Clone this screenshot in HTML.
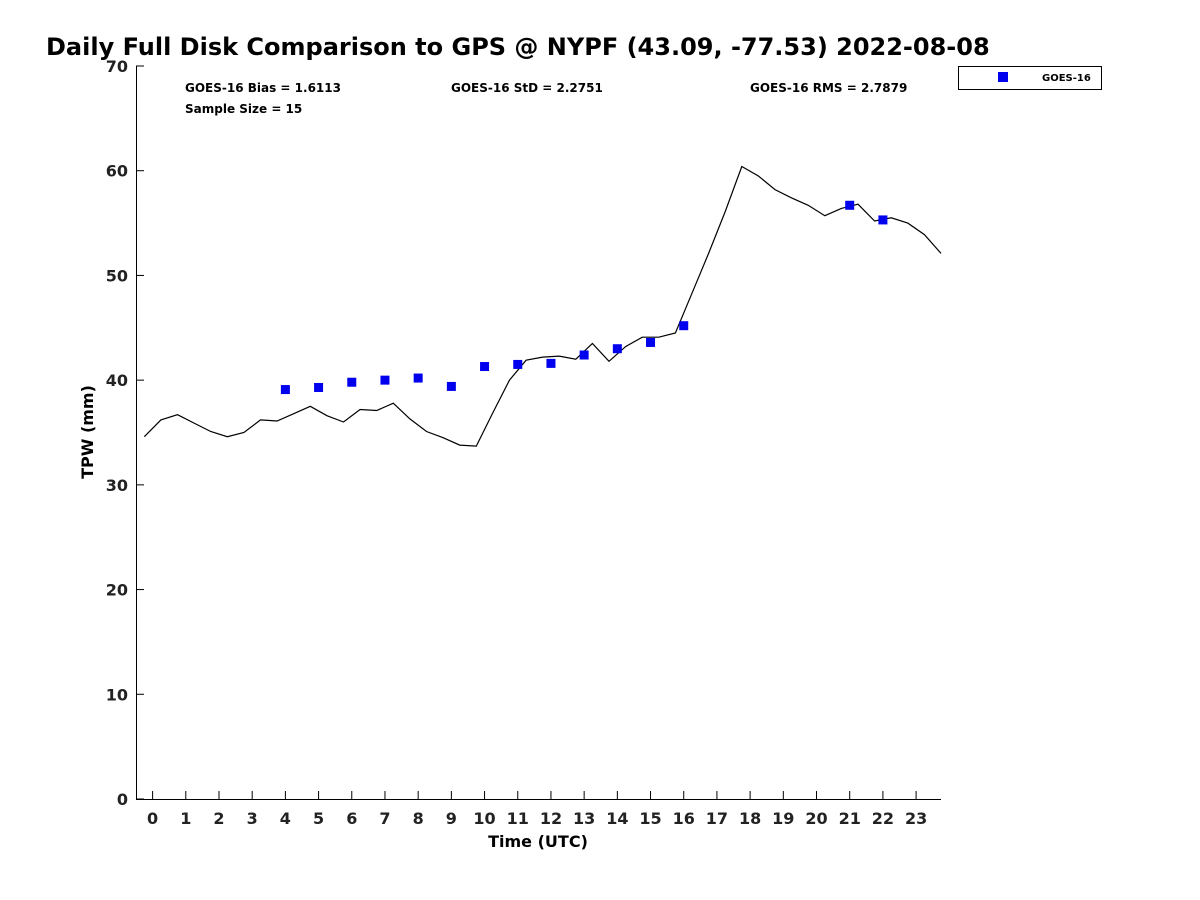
<!DOCTYPE html>
<html><head><meta charset="utf-8"><style>
body{margin:0;background:#fff;}
svg{display:block;font-family:"DejaVu Sans","Liberation Sans",sans-serif;}
</style></head><body>
<svg id="chart" width="1200" height="900">
<text x="46" y="55" font-size="24" font-weight="bold">Daily Full Disk Comparison to GPS @ NYPF (43.09, -77.53) 2022-08-08</text>
<g id="axes"></g>
<g id="plot"></g>
<text x="185" y="92" font-size="12" font-weight="bold">GOES-16 Bias = 1.6113</text>
<text x="451" y="92" font-size="12" font-weight="bold">GOES-16 StD = 2.2751</text>
<text x="750" y="92" font-size="12" font-weight="bold">GOES-16 RMS = 2.7879</text>
<text x="185" y="113" font-size="12" font-weight="bold">Sample Size = 15</text>
<text x="538" y="847" font-size="16" font-weight="bold" text-anchor="middle">Time (UTC)</text>
<text transform="translate(93,432) rotate(-90)" font-size="16" font-weight="bold" text-anchor="middle">TPW (mm)</text>
<g>
<rect x="958.5" y="66.5" width="143" height="23" fill="#fff" stroke="#000" stroke-width="1"/>
<rect x="998" y="72" width="10" height="10" fill="#0000ee"/>
<text x="1042" y="81" font-size="10" font-weight="bold">GOES-16</text>
</g>
</svg>
<script>
const gpsHours = [-0.25,0.25,0.75,1.25,1.75,2.25,2.75,3.25,3.75,4.25,4.75,5.25,5.75,6.25,6.75,7.25,7.75,8.25,8.75,9.25,9.75,10.25,10.75,11.25,11.75,12.25,12.75,13.25,13.75,14.25,14.75,15.25,15.75,16.25,16.75,17.25,17.75,18.25,18.75,19.25,19.75,20.25,20.75,21.25,21.75,22.25,22.75,23.25,23.75];
const gpsValues = [34.6,36.2,36.7,35.9,35.1,34.6,35.0,36.2,36.1,36.8,37.5,36.6,36.0,37.2,37.1,37.8,36.3,35.1,34.5,33.8,33.7,36.9,40.0,41.9,42.2,42.3,42.0,43.5,41.8,43.2,44.1,44.1,44.5,48.3,52.1,56.1,60.4,59.5,58.2,57.4,56.7,55.7,56.4,56.8,55.2,55.5,55.0,53.9,52.1];
const goesHours = [4,5,6,7,8,9,10,11,12,13,14,15,16,21,22];
const goesValues = [39.1,39.3,39.8,40.0,40.2,39.4,41.3,41.5,41.6,42.4,43.0,43.6,45.2,56.7,55.3];
const xTicks = [0,1,2,3,4,5,6,7,8,9,10,11,12,13,14,15,16,17,18,19,20,21,22,23];
const yTicks = [0,10,20,30,40,50,60,70];

const L=136,R=941,T=66,B=799,XMIN=-0.5,XMAX=23.75,YMIN=0,YMAX=70;
const xs=v=>L+(v-XMIN)/(XMAX-XMIN)*(R-L);
const ys=v=>B-(v-YMIN)/(YMAX-YMIN)*(B-T);
const NS="http://www.w3.org/2000/svg";
const axes=document.getElementById('axes'), plot=document.getElementById('plot');
function mk(tag,attrs,parent){const e=document.createElementNS(NS,tag);for(const k in attrs)e.setAttribute(k,attrs[k]);parent.appendChild(e);return e;}

const xl=mk('line',{x1:L,y1:B+0.5,x2:R,y2:B+0.5,stroke:'#000'},axes);


const yl=mk('line',{x1:L+0.5,y1:T,x2:L+0.5,y2:B,stroke:'#000'},axes);



xTicks.forEach(t=>{
  const x=xs(t);
  const tk=mk('line',{x1:x,y1:B,x2:x,y2:B-8,stroke:'#000'},axes);
  
  
  const tx=mk('text',{x:x,y:B+25,'font-size':16,'font-weight':'bold','text-anchor':'middle',fill:'#222'},axes);
  tx.textContent=t;
  
  
});
yTicks.forEach(t=>{
  const y=ys(t);
  const tk=mk('line',{x1:L,y1:y,x2:L+8,y2:y,stroke:'#000'},axes);
  
  
  const tx=mk('text',{x:L-8,y:y+6,'font-size':16,'font-weight':'bold','text-anchor':'end',fill:'#222'},axes);
  tx.textContent=t;
  
  
});

const pts=gpsHours.map((h,i)=>xs(h).toFixed(1)+','+ys(gpsValues[i]).toFixed(1)).join(' ');
const line=mk('polyline',{points:pts,fill:'none',stroke:'#000','stroke-width':1.2},plot);



goesHours.forEach((h,i)=>{
  const m=mk('rect',{x:xs(h)-4.5,y:ys(goesValues[i])-4.5,width:9,height:9,fill:'#0000ee'},plot);
  
  
});
</script>
</body></html>
